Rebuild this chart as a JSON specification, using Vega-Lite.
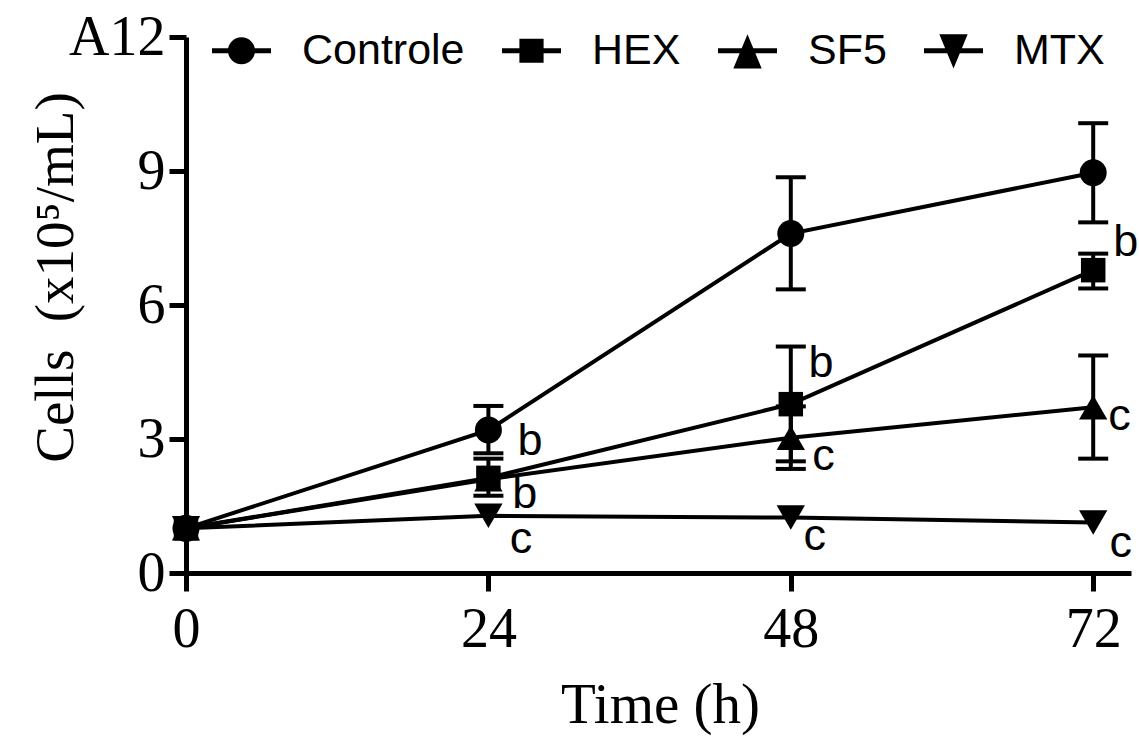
{
  "$schema": "https://vega.github.io/schema/vega-lite/v6.json",
  "width": 945,
  "height": 536,
  "autosize": "none",
  "padding": {"left": 186, "top": 37, "right": 8, "bottom": 165},
  "background": "white",
  "config": {
    "view": {"stroke": null},
    "axis": {
      "grid": false,
      "domainColor": "black",
      "domainWidth": 5,
      "tickColor": "black",
      "tickWidth": 5,
      "labelFont": "Liberation Serif",
      "labelFontSize": 56,
      "labelColor": "black",
      "labelFlush": false,
      "labelOverlap": false,
      "titleFont": "Liberation Serif",
      "titleFontWeight": "normal",
      "titleColor": "black"
    }
  },
  "datasets": {
    "means": [
      {"series": "Controle", "time": 0, "mean": 1.0, "lo": null, "hi": null},
      {"series": "Controle", "time": 24, "mean": 3.2, "lo": 2.68, "hi": 3.74},
      {"series": "Controle", "time": 48, "mean": 7.6, "lo": 6.35, "hi": 8.86},
      {"series": "Controle", "time": 72, "mean": 8.96, "lo": 7.85, "hi": 10.07},
      {"series": "HEX", "time": 0, "mean": 1.0, "lo": null, "hi": null},
      {"series": "HEX", "time": 24, "mean": 2.13, "lo": 1.73, "hi": 2.56},
      {"series": "HEX", "time": 48, "mean": 3.78, "lo": 2.5, "hi": 5.07},
      {"series": "HEX", "time": 72, "mean": 6.78, "lo": 6.37, "hi": 7.15},
      {"series": "SF5", "time": 0, "mean": 1.0, "lo": null, "hi": null},
      {"series": "SF5", "time": 24, "mean": 2.1, "lo": null, "hi": null},
      {"series": "SF5", "time": 48, "mean": 3.03, "lo": 2.33, "hi": 3.73},
      {"series": "SF5", "time": 72, "mean": 3.71, "lo": 2.56, "hi": 4.87},
      {"series": "MTX", "time": 0, "mean": 1.0, "lo": null, "hi": null},
      {"series": "MTX", "time": 24, "mean": 1.28, "lo": null, "hi": null},
      {"series": "MTX", "time": 48, "mean": 1.24, "lo": null, "hi": null},
      {"series": "MTX", "time": 72, "mean": 1.13, "lo": null, "hi": null}
    ],
    "notes": [
      {"time": 26.3, "value": 2.65, "label": "b"},
      {"time": 25.9, "value": 1.46, "label": "b"},
      {"time": 25.7, "value": 0.45, "label": "c"},
      {"time": 49.4, "value": 4.39, "label": "b"},
      {"time": 49.7, "value": 2.31, "label": "c"},
      {"time": 49.0, "value": 0.52, "label": "c"},
      {"time": 73.6, "value": 7.09, "label": "b"},
      {"time": 73.2, "value": 3.21, "label": "c"},
      {"time": 73.3, "value": 0.36, "label": "c"}
    ]
  },
  "encoding": {
    "x": {
      "field": "time", "type": "quantitative",
      "scale": {"domain": [0, 75], "nice": false, "zero": true},
      "axis": {
        "values": [0, 24, 48, 72],
        "title": "Time (h)",
        "tickSize": 18,
        "labelPadding": 11,
        "titleFontSize": 57,
        "titleX": 474,
        "titleY": 149,
        "titleBaseline": "alphabetic",
        "titleAlign": "center"
      }
    }
  },
  "layer": [
    {
      "data": {"name": "means"},
      "mark": {"type": "line", "color": "black", "strokeWidth": 4},
      "encoding": {
        "y": {
          "field": "mean", "type": "quantitative",
          "title": "Cells\u00a0\u00a0(x10⁵/mL)",
          "scale": {"domain": [0, 12], "nice": false},
          "axis": {
            "values": [0, 3, 6, 9, 12],
            "labelExpr": "datum.value == 12 ? 'A12' : datum.label",
            "tickSize": 17,
            "labelPadding": 4,
            "titleFontSize": 55,
            "titleAngle": -90,
            "titleX": -114,
            "titleY": 240,
            "titleBaseline": "alphabetic",
            "titleAlign": "center"
          }
        },
        "detail": {"field": "series", "type": "nominal"}
      }
    },
    {
      "data": {"name": "means"},
      "transform": [{"filter": "datum.lo != null"}],
      "mark": {"type": "errorbar", "color": "black", "opacity": 1, "thickness": 4, "size": 30,
        "ticks": {"color": "black", "opacity": 1}, "rule": {"color": "black", "opacity": 1}},
      "encoding": {
        "y": {"field": "lo", "type": "quantitative", "title": "Cells\u00a0\u00a0(x10⁵/mL)"},
        "y2": {"field": "hi"}
      }
    },
    {
      "data": {"name": "means"},
      "transform": [{"filter": "datum.series == 'Controle'"}],
      "mark": {"type": "point", "shape": "circle", "filled": true, "color": "black", "opacity": 1, "size": 729},
      "encoding": {"y": {"field": "mean", "type": "quantitative", "title": "Cells\u00a0\u00a0(x10⁵/mL)"}}
    },
    {
      "data": {"name": "means"},
      "transform": [{"filter": "datum.series == 'HEX'"}],
      "mark": {"type": "point", "shape": "square", "filled": true, "color": "black", "opacity": 1, "size": 600},
      "encoding": {"y": {"field": "mean", "type": "quantitative", "title": "Cells\u00a0\u00a0(x10⁵/mL)"}}
    },
    {
      "data": {"name": "means"},
      "transform": [{"filter": "datum.series == 'SF5'"}],
      "mark": {"type": "point", "shape": "triangle-up", "filled": true, "color": "black", "opacity": 1, "size": 800},
      "encoding": {"y": {"field": "mean", "type": "quantitative", "title": "Cells\u00a0\u00a0(x10⁵/mL)"}}
    },
    {
      "data": {"name": "means"},
      "transform": [{"filter": "datum.series == 'MTX'"}],
      "mark": {"type": "point", "shape": "triangle-down", "filled": true, "color": "black", "opacity": 1, "size": 800},
      "encoding": {"y": {"field": "mean", "type": "quantitative", "title": "Cells\u00a0\u00a0(x10⁵/mL)"}}
    },
    {
      "data": {"name": "means"},
      "transform": [{"filter": "false"}],
      "mark": {"type": "point", "filled": true, "color": "black", "opacity": 1},
      "encoding": {
        "x": null,
        "shape": {
          "field": "series", "type": "nominal",
          "scale": {
            "domain": ["Controle", "HEX", "SF5", "MTX"],
            "range": [
              "M-1,-0.085H1V0.085H-1ZM0.46,0A0.46,0.46,0,1,1,-0.46,0A0.46,0.46,0,1,1,0.46,0Z",
              "M-1,-0.085H1V0.085H-1ZM-0.41,-0.41H0.41V0.41H-0.41Z",
              "M-1,-0.085H1V0.085H-1ZM0,-0.56L0.48,0.6L-0.48,0.6Z",
              "M-1,-0.085H1V0.085H-1ZM-0.48,-0.56L0.48,-0.56L0,0.6Z"
            ]
          },
          "legend": {
            "orient": "none",
            "legendX": 25,
            "legendY": -17,
            "direction": "horizontal",
            "title": null,
            "padding": 0,
            "symbolSize": 3481,
            "symbolFillColor": "black",
            "symbolOpacity": 1,
            "labelFont": "Liberation Sans",
            "labelFontSize": 43,
            "labelColor": "black",
            "labelOffset": 30,
            "labelLimit": 0,
            "columnPadding": 34
          }
        }
      }
    },
    {
      "data": {"name": "notes"},
      "mark": {"type": "text", "align": "left", "baseline": "alphabetic", "font": "Liberation Sans", "fontSize": 45, "color": "black"},
      "encoding": {
        "y": {"field": "value", "type": "quantitative", "title": "Cells\u00a0\u00a0(x10⁵/mL)"},
        "text": {"field": "label"}
      }
    }
  ]
}
